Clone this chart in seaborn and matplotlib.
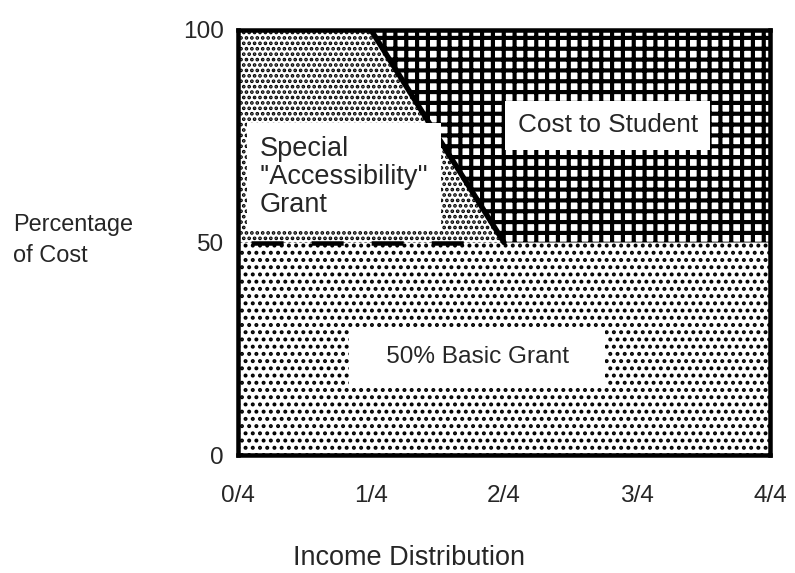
import matplotlib
matplotlib.use("Agg")
import matplotlib.pyplot as plt
import seaborn as sns

# income quarters and stacked shares of cost (percent)
income = [0, 1, 2, 3, 4]
tick_labels = ["0/4", "1/4", "2/4", "3/4", "4/4"]
basic_grant = [50, 50, 50, 50, 50]
grant_top = [100, 100, 50, 50, 50]
total_cost = [100, 100, 100, 100, 100]
dash_x = [0, 1.75]
dash_y = [50, 50]

sns.set_style("white")
plt.rcParams["font.family"] = ["Liberation Sans", "DejaVu Sans"]

DPI = 130
W, H = 795, 573
fig = plt.figure(figsize=(W / DPI, H / DPI), dpi=DPI)
ax = fig.add_axes([238 / W, (H - 455) / H, 532 / W, 425 / H])

# shaded regions
with plt.rc_context({"hatch.linewidth": 1.4}):
    ax.fill_between(income, 0, basic_grant, facecolor="white", edgecolor="black",
                    hatch="...", linewidth=0)
    ax.fill_between(income, basic_grant, grant_top, facecolor="white", edgecolor="black",
                    hatch="....", linewidth=0)
with plt.rc_context({"hatch.linewidth": 2.3}):
    ax.fill_between(income, grant_top, total_cost, facecolor="white", edgecolor="black",
                    hatch="++", linewidth=0)

# boundary lines
sns.lineplot(x=income[1:3], y=grant_top[1:3], color="black", linewidth=3, ax=ax)
sns.lineplot(x=dash_x, y=dash_y, color="black", linewidth=2.5, ax=ax)
ax.lines[-1].set_linestyle((10.4, (7.1, 6.2)))

# region labels
ax.text(2.78, 77.6, "Cost to Student", ha="center", va="center", fontsize=14.5,
        bbox=dict(facecolor="white", edgecolor="none", pad=7))
ax.text(0.165, 65.4, "Special\n''Accessibility''\nGrant", ha="left", va="center",
        fontsize=15, linespacing=1.1, bbox=dict(facecolor="white", edgecolor="none", pad=7))
ax.text(1.8, 23, "   50% Basic Grant   ", ha="center", va="center", fontsize=13.5,
        bbox=dict(facecolor="white", edgecolor="none", pad=9))

ax.set_xlim(0, 4)
ax.set_ylim(0, 100)
ax.set_xticks(income, tick_labels)
ax.set_yticks([0, 50, 100])
ax.tick_params(axis="both", length=0, labelsize=13.5)
ax.tick_params(axis="x", pad=16.5)
ax.tick_params(axis="y", pad=8)
for s in ax.spines.values():
    s.set_visible(True)
    s.set_color("black")
    s.set_linewidth(2.5)
ax.set_xlabel("")
ax.set_ylabel("")

fig.text(13 / W, 1 - 240 / H, "Percentage\nof Cost", ha="left", va="center",
         fontsize=13, linespacing=1.45)
fig.text(409 / W, 2 / H, "Income Distribution", ha="center", va="bottom", fontsize=15)

fig.savefig("out.png", dpi=DPI)
